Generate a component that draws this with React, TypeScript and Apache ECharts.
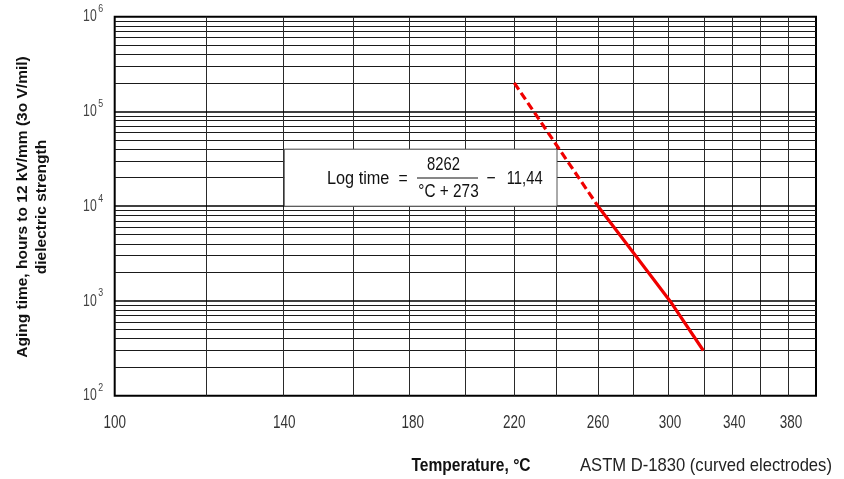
import React, { useEffect, useRef } from "react";
import * as echarts from "echarts";

// ---- data ----
const xGridTemps = [100, 120, 140, 160, 180, 200, 220, 240, 260, 280, 300, 320, 340, 360, 380, 400];
const xLabelTemps = [100, 140, 180, 220, 260, 300, 340, 380];
const yDecades = [100, 1000, 10000, 100000, 1000000];
const yMinorMultipliers = [2, 3, 4, 5, 6, 7, 8, 9];
const dashedTemps = [220, 260];
const dashedHours = [200000, 10000];
const solidTemps = [260, 300, 320];
const solidHours = [10000, 1000, 300];

// ---- non-uniform temperature axis calibration (fraction of axis length per grid temperature) ----
const tempAxisScale = [0, 0.1306, 0.2418, 0.3388, 0.4249, 0.5005, 0.5698, 0.6307, 0.6892, 0.7423, 0.7918, 0.8393, 0.8835, 0.9249, 0.9644, 1];

function tempToAxis(t: number): number {
  for (let i = 0; i < xGridTemps.length - 1; i++) {
    const t0 = xGridTemps[i], t1 = xGridTemps[i + 1];
    if (t >= t0 && t <= t1) {
      const a = tempAxisScale[i], b = tempAxisScale[i + 1];
      return a + ((t - t0) / (t1 - t0)) * (b - a);
    }
  }
  return t < xGridTemps[0] ? 0 : 1;
}

const FONT = "'Liberation Sans', Arial, Helvetica, sans-serif";
const RED = "#f00000";

function txt(x: number, y: number, text: string, font: string, align: string, extra: any = {}) {
  const { style, ...rest } = extra;
  return {
    type: "text",
    x,
    y,
    z: 10,
    ...rest,
    style: {
      text,
      font,
      fill: "#111",
      textAlign: align,
      align,
      textVerticalAlign: "middle",
      verticalAlign: "middle",
      ...(style || {}),
    },
  };
}

export default function App() {
  const ref = useRef<HTMLDivElement>(null);
  useEffect(() => {
    const chart = echarts.init(ref.current as HTMLDivElement, null, { renderer: "svg" });

    const vLines = xGridTemps.slice(1, -1).map((t) => ({ xAxis: tempToAxis(t) }));
    const decadeLines = yDecades.slice(1, -1).map((v) => ({ yAxis: v }));
    const minorLines = yDecades
      .slice(0, -1)
      .flatMap((d) => yMinorMultipliers.map((m) => ({ yAxis: d * m })));

    const markBase = {
      silent: true,
      z: 2,
      symbol: ["none", "none"],
      label: { show: false },
      animation: false,
    };

    const option: any = {
      animation: false,
      grid: {
        left: 114.7,
        right: 28,
        top: 16.7,
        bottom: 83.3,
        show: true,
        borderColor: "#000",
        borderWidth: 2,
        backgroundColor: "transparent",
      },
      xAxis: {
        type: "value",
        min: 0,
        max: 1,
        axisLine: { show: false },
        axisTick: { show: false },
        splitLine: { show: false },
        axisLabel: { show: false },
      },
      yAxis: {
        type: "log",
        logBase: 10,
        min: 100,
        max: 1000000,
        axisLine: { show: false },
        axisTick: { show: false },
        splitLine: { show: false },
        axisLabel: { show: false },
      },
      series: [
        {
          name: "minorH",
          type: "line",
          data: [],
          z: 1,
          markLine: { ...markBase, lineStyle: { color: "#1a1a1a", width: 1, type: "solid" }, data: minorLines },
        },
        {
          name: "vert",
          type: "line",
          data: [],
          z: 1,
          markLine: { ...markBase, lineStyle: { color: "#2a2a2a", width: 1, type: "solid" }, data: vLines },
        },
        {
          name: "decade",
          type: "line",
          data: [],
          z: 2,
          markLine: { ...markBase, lineStyle: { color: "#000", width: 1.7, type: "solid" }, data: decadeLines },
        },
        {
          name: "box",
          type: "line",
          data: [],
          z: 3,
          markArea: {
            silent: true,
            z: 3,
            animation: false,
            itemStyle: { color: "#ffffff", borderColor: "#555", borderWidth: 1 },
            label: { show: false },
            data: [[{ xAxis: tempToAxis(140), yAxis: 40000 }, { xAxis: tempToAxis(240), yAxis: 10000 }]],
          },
        },
        {
          name: "extrapolated",
          type: "line",
          z: 6,
          symbol: "none",
          lineStyle: { color: RED, width: 3.2, type: [8, 4] },
          data: dashedTemps.map((t, i) => [tempToAxis(t), dashedHours[i]]),
        },
        {
          name: "measured",
          type: "line",
          z: 6,
          symbol: "none",
          lineStyle: { color: RED, width: 3.2, type: "solid" },
          data: solidTemps.map((t, i) => [tempToAxis(t), solidHours[i]]),
        },
      ],
    };

    chart.setOption(option);

    // axis labels placed through the chart's own scales (condensed type)
    const labelGraphics: any[] = [];
    const [leftX, bottomY] = chart.convertToPixel({ gridIndex: 0 }, [0, yDecades[0]]) as number[];
    xLabelTemps.forEach((t) => {
      const [px] = chart.convertToPixel({ gridIndex: 0 }, [tempToAxis(t), yDecades[0]]) as number[];
      labelGraphics.push(
        txt(px, bottomY + 26, String(t), "18px " + FONT, "center", { scaleX: 0.75, style: { fill: "#333" } })
      );
    });
    yDecades.forEach((v) => {
      const [, py] = chart.convertToPixel({ gridIndex: 0 }, [0, v]) as number[];
      const e = Math.round(Math.log10(v));
      labelGraphics.push(txt(leftX - 18, py - 1, "10", "17px " + FONT, "right", { scaleX: 0.72, style: { fill: "#444" } }));
      labelGraphics.push(txt(leftX - 16.5, py - 8.5, String(e), "11px " + FONT, "left", { scaleX: 0.8, style: { fill: "#444" } }));
    });

    const graphics: any[] = [
      txt(31, 207, "Aging time, hours to 12 kV/mm (3o V/mil)\ndielectric strength", "bold 15.5px " + FONT, "center", {
        rotation: Math.PI / 2,
        style: { lineHeight: 19 },
      }),
      txt(471, 465, "Temperature, °C", "bold 17.5px " + FONT, "center", { scaleX: 0.89 }),
      txt(580, 465, "ASTM D-1830 (curved electrodes)", "17.5px " + FONT, "left", { scaleX: 0.95, style: { fill: "#222" } }),
      txt(327, 178, "Log time", "18.5px " + FONT, "left", { scaleX: 0.88 }),
      txt(403, 178, "=", "18.5px " + FONT, "center", { scaleX: 0.85 }),
      txt(443.5, 164, "8262", "18.5px " + FONT, "center", { scaleX: 0.8 }),
      {
        type: "line",
        z: 10,
        shape: { x1: 417, y1: 178, x2: 478, y2: 178 },
        style: { stroke: "#111", lineWidth: 1.2 },
      },
      txt(448.5, 191.5, "°C + 273", "18.5px " + FONT, "center", { scaleX: 0.83 }),
      txt(491, 178, "−", "18.5px " + FONT, "center", { scaleX: 0.85 }),
      txt(506.7, 178, "11,44", "18.5px " + FONT, "left", { scaleX: 0.8 }),
      ...labelGraphics,
    ];

    chart.setOption({ graphic: graphics });
    return () => chart.dispose();
  }, []);

  return <div ref={ref} style={{ position: "fixed", left: 0, top: 0, width: 844, height: 479 }} />;
}
